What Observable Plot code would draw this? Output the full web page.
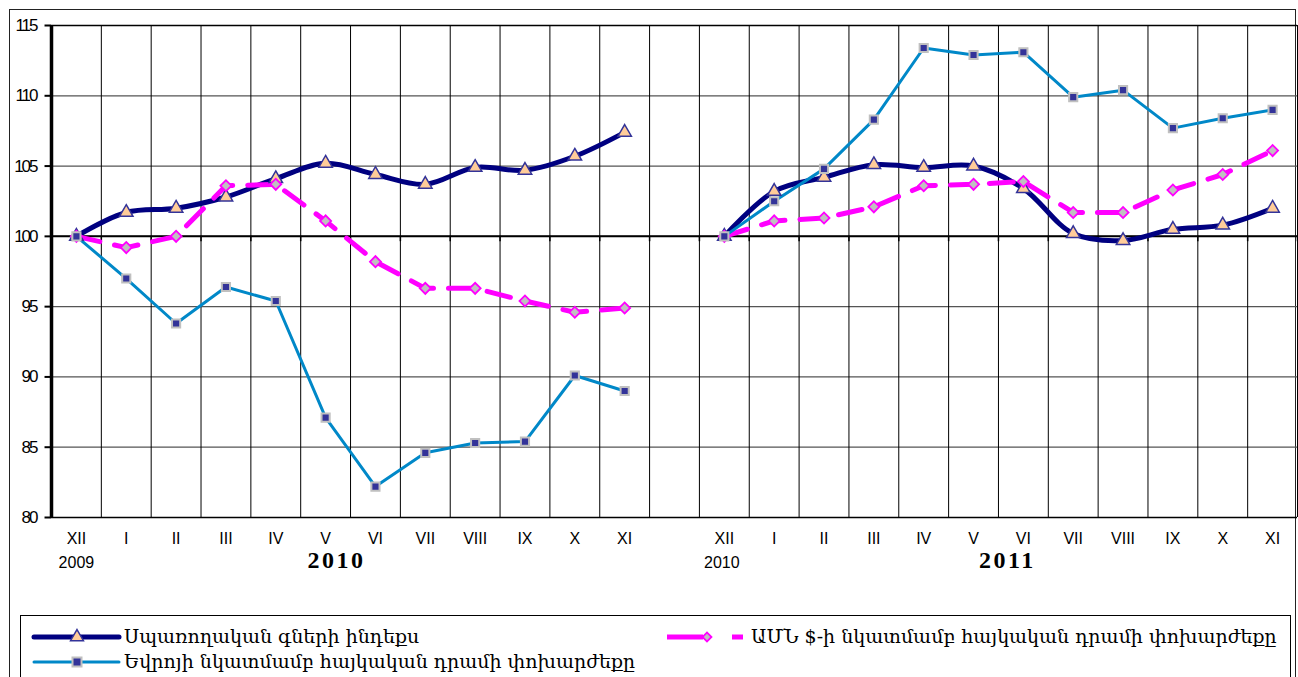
<!DOCTYPE html>
<html>
<head>
<meta charset="utf-8">
<script src="https://cdn.jsdelivr.net/npm/d3@7"></script>
<script src="https://cdn.jsdelivr.net/npm/@observablehq/plot@0.6"></script>
<style>
  body { margin: 0; background: #fff; }
  #wrap { position: relative; width: 1298px; height: 677px; overflow: hidden; background: #fff; }
  #frame { position: absolute; left: 9px; top: 9px; width: 1287px; height: 720px; border: 1.5px solid #222; box-sizing: border-box; }
  #chart { position: absolute; left: 0; top: 0; }
  #legend { position: absolute; left: 20px; top: 615px; width: 1271px; height: 90px; border: 1px solid #000; box-sizing: border-box; background: #fff; }
  #legend svg { position: absolute; left: 0; top: 0; }
  .lt { position: absolute; font-family: "DejaVu Serif", serif; font-size: 19px; line-height: 22px; color: #000; white-space: nowrap; }
</style>
</head>
<body>
<div id="wrap">
  <div id="frame"></div>
  <div id="chart"></div>
  <div id="legend"></div>
</div>
<script>
// ---- data ----
const months = ["XII", "I", "II", "III", "IV", "V", "VI", "VII", "VIII", "IX", "X", "XI"];
const yTicks = [80, 85, 90, 95, 100, 105, 110, 115];

// period 1: XII 2009 – XI 2010
const cpi1 = [100, 101.7, 102.0, 102.8, 104.1, 105.2, 104.4, 103.7, 104.9, 104.7, 105.7, 107.4];
const eur1 = [100, 97.0, 93.8, 96.4, 95.4, 87.1, 82.2, 84.6, 85.3, 85.4, 90.1, 89.0];
const usd1 = [100, 99.2, 100.0, 103.6, 103.7, 101.1, 98.2, 96.3, 96.3, 95.4, 94.6, 94.9];
// period 2: XII 2010 – XI 2011
const cpi2 = [100, 103.2, 104.2, 105.1, 104.9, 105.0, 103.4, 100.2, 99.7, 100.5, 100.8, 102.0];
const eur2 = [100, 102.5, 104.8, 108.3, 113.4, 112.9, 113.1, 109.9, 110.4, 107.7, 108.4, 109.0];
const usd2 = [100, 101.1, 101.3, 102.1, 103.6, 103.7, 103.9, 101.7, 101.7, 103.3, 104.4, 106.1];

const yearLabels = [
  {label: "2009", at: 0, bold: false},
  {label: "2010", at: 5.22, bold: true},
  {label: "2010", at: 12.95, bold: false},
  {label: "2011", at: 18.68, bold: true}
];

const seriesNames = {
  cpi: "Սպառողական գների ինդեքս",
  usd: "ԱՄՆ $-ի նկատմամբ հայկական դրամի փոխարժեքը",
  eur: "Եվրոյի նկատմամբ հայկական դրամի փոխարժեքը"
};

// ---- build table ----
const offset2 = months.length + 1; // one empty column between periods
const rows = [];
function add(series, period, vals) {
  vals.forEach((v, i) => rows.push({series, period, idx: i + (period === 2 ? offset2 : 0), value: v}));
}
add("cpi", 1, cpi1); add("cpi", 2, cpi2);
add("eur", 1, eur1); add("eur", 2, eur2);
add("usd", 1, usd1); add("usd", 2, usd2);
const cpi = rows.filter(d => d.series === "cpi");
const eur = rows.filter(d => d.series === "eur");
const usd = rows.filter(d => d.series === "usd");

const nCols = months.length * 2 + 1;
const boundaries = d3.range(nCols + 1).map(i => i - 0.5);
const xLabels = [
  ...months.map((m, i) => ({idx: i, label: m})),
  ...months.map((m, i) => ({idx: i + offset2, label: m}))
];

const C_CPI = "#000080", C_EUR = "#0088C8", C_USD = "#FF00FF";

const chart = Plot.plot({
  width: 1298,
  height: 600,
  marginLeft: 51,
  marginRight: 1,
  marginTop: 25,
  marginBottom: 83,
  style: {fontFamily: "'Liberation Sans', Arial, sans-serif", fontSize: "16px", background: "transparent", overflow: "visible", color: "#000"},
  x: {domain: [-0.5, nCols - 0.5], axis: null},
  y: {domain: [80, 115], axis: null},
  marks: [
    Plot.ruleY(yTicks, {stroke: "#555", strokeWidth: 1.2}),
    Plot.ruleX(boundaries, {stroke: "#000", strokeWidth: 1}),
    Plot.ruleY([80, 115], {stroke: "#000", strokeWidth: 1.5}),
    Plot.ruleY([100], {stroke: "#000", strokeWidth: 2}),
    Plot.ruleX(boundaries, {y1: () => 100, y2: () => 99.62, stroke: "#000", strokeWidth: 1.5}),
    Plot.ruleY(yTicks, {x1: () => -0.5, x2: () => -0.63, stroke: "#000", strokeWidth: 2}),
    Plot.ruleX([-0.5], {stroke: "#000", strokeWidth: 3.5}),
    // lines
    Plot.line(cpi, {x: "idx", y: "value", z: "period", stroke: C_CPI, strokeWidth: 5, curve: "catmull-rom", strokeLinejoin: "round"}),
    Plot.line(usd, {x: "idx", y: "value", z: "period", stroke: C_USD, strokeWidth: 5, strokeDasharray: "24,15"}),
    Plot.line(eur, {x: "idx", y: "value", z: "period", stroke: C_EUR, strokeWidth: 3}),
    // markers
    Plot.dot(cpi, {x: "idx", y: "value", symbol: "triangle", r: 5, fill: "#FFCC99", stroke: "#333399", strokeWidth: 1.5}),
    Plot.dot(usd, {x: "idx", y: "value", symbol: "square", rotate: 45, r: 4.4, fill: "#C0C0C0", stroke: C_USD, strokeWidth: 1.8}),
    Plot.dot(eur, {x: "idx", y: "value", symbol: "square", r: 4.6, fill: "#333399", stroke: "#C0C0C0", strokeWidth: 2}),
    // y labels
    Plot.text(yTicks, {x: () => -0.5, y: d => d, text: d => String(d), frameAnchor: "left", dx: -15, textAnchor: "end", fontSize: 17, fontFamily: "'Liberation Sans', Arial, sans-serif"}),
    // x labels
    Plot.text(xLabels, {x: "idx", text: "label", frameAnchor: "bottom", dy: 26, fontSize: 16}),
    Plot.text(yearLabels.filter(d => !d.bold), {x: "at", text: "label", frameAnchor: "bottom", dy: 50, fontSize: 16}),
    Plot.text(yearLabels.filter(d => d.bold), {x: "at", text: "label", frameAnchor: "bottom", dy: 50, fontSize: 24, fontWeight: "bold", fontFamily: "'Liberation Serif', 'DejaVu Serif', serif"})
  ]
});
document.getElementById("chart").appendChild(chart);
const sel = d3.select(chart);
sel.selectAll("g, text").filter(function() { return this.getAttribute("font-size") === "24"; }).style("letter-spacing", "2.5px");
sel.selectAll("g, text").filter(function() { return this.getAttribute("font-size") === "17"; }).style("letter-spacing", "-2px");

// ---- legend ----
const legend = d3.select("#legend");
const L = legend.append("svg").attr("width", 1271).attr("height", 90);
const ox = 20, oy = 615; // legend box offset in page
function px(x) { return x - ox; }
function py(y) { return y - oy; }
// CPI
L.append("line").attr("x1", px(33)).attr("x2", px(118)).attr("y1", py(636)).attr("y2", py(636))
  .attr("stroke", C_CPI).attr("stroke-width", 5).attr("stroke-linecap", "round");
L.append("path").attr("d", d3.symbol(d3.symbolTriangle, 72)()).attr("transform", `translate(${px(76)},${py(636)})`)
  .attr("fill", "#FFCC99").attr("stroke", "#333399").attr("stroke-width", 1.5);
// EUR
L.append("line").attr("x1", px(33)).attr("x2", px(118)).attr("y1", py(661)).attr("y2", py(661))
  .attr("stroke", C_EUR).attr("stroke-width", 3).attr("stroke-linecap", "round");
L.append("rect").attr("x", px(76) - 4.5).attr("y", py(661) - 4.5).attr("width", 9).attr("height", 9)
  .attr("fill", "#333399").attr("stroke", "#C0C0C0").attr("stroke-width", 2);
// USD
L.append("line").attr("x1", px(666)).attr("x2", px(702)).attr("y1", py(636)).attr("y2", py(636))
  .attr("stroke", C_USD).attr("stroke-width", 5);
L.append("line").attr("x1", px(731)).attr("x2", px(742)).attr("y1", py(636)).attr("y2", py(636))
  .attr("stroke", C_USD).attr("stroke-width", 5);
L.append("path").attr("d", d3.symbol(d3.symbolSquare, 40)()).attr("transform", `translate(${px(706)},${py(636)}) rotate(45)`)
  .attr("fill", "#C0C0C0").attr("stroke", C_USD).attr("stroke-width", 1.8);

function addText(txt, x, y) {
  legend.append("div").attr("class", "lt").style("left", px(x) + "px").style("top", (py(y) - 12) + "px").text(txt);
}
addText(seriesNames.cpi, 123, 636);
addText(seriesNames.eur, 123, 661);
addText(seriesNames.usd, 750, 636);
</script>
</body>
</html>
